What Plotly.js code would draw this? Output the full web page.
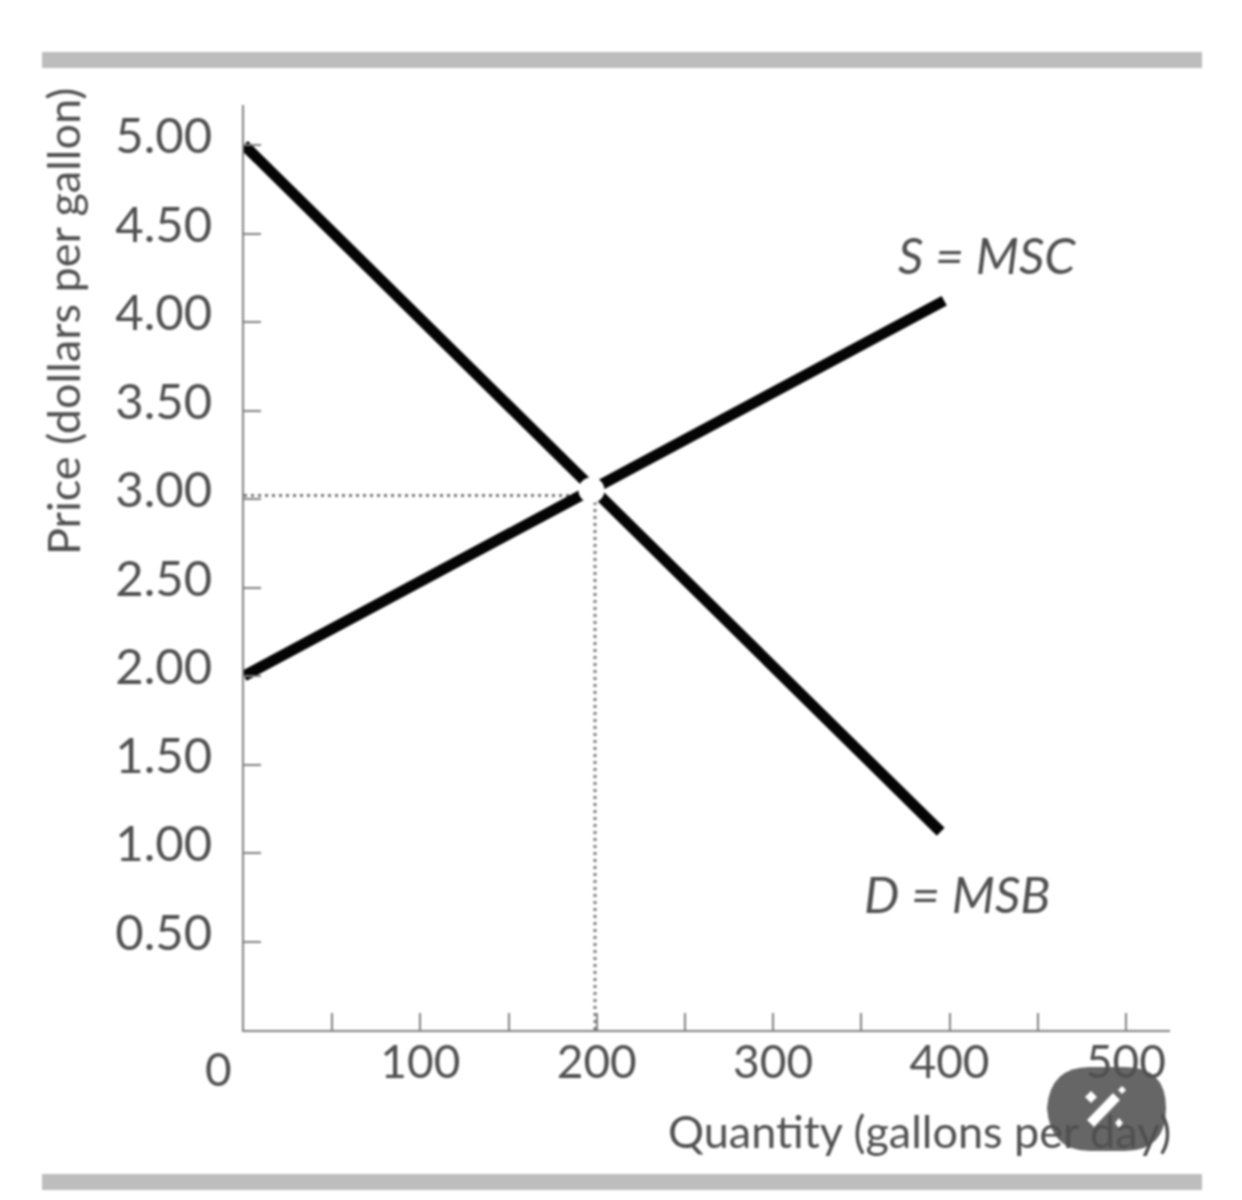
<!DOCTYPE html>
<html>
<head>
<meta charset="utf-8">
<script src="https://cdn.plot.ly/plotly-3.0.0.min.js"></script>
<style>html,body{margin:0;padding:0;background:#fff}#chart{width:1242px;height:1200px;filter:blur(0.8px)}</style>
</head>
<body>
<div id="chart"></div>
<script>
const demandQty = [0, 395];
const demandPrice = [5.0, 1.12];
const supplyQty = [0, 397];
const supplyPrice = [2.0, 4.12];
const equilibriumQty = [197];
const equilibriumPrice = [3.05];
const guideVQty = [199, 199];
const guideVPrice = [0, 3.0];
const guideHQty = [0, 197];
const guideHPrice = [3.02, 3.02];
const xTickVals = [50,100,150,200,250,300,350,400,450,500];
const xTickText = ['','100','','200','','300','','400','','500'];
const yTickVals = [0.5,1,1.5,2,2.5,3,3.5,4,4.5,5];
const yTickText = ['0.50','1.00','1.50','2.00','2.50','3.00','3.50','4.00','4.50','5.00'];
const xTitle = 'Quantity (gallons per day)';
const yTitle = 'Price (dollars per gallon)';

const W=1242,H=1200,L=244,R=1170,T=105,B=1030;
const px=x=>(x-L)/(R-L), py=y=>(B-y)/(B-T);
const textCol='#505050', fam='Lato, sans-serif';
const lineStyle={color:'#050505',width:11};
const guide={color:'#777',width:3,dash:'3px,4px'};
const ln=(x,y,line)=>({x,y,type:'scatter',mode:'lines',line,cliponaxis:false,hoverinfo:'skip',showlegend:false});
const traces=[
  ln(guideVQty,guideVPrice,guide),
  ln(guideHQty,guideHPrice,guide),
  ln(demandQty,demandPrice,lineStyle),
  ln(supplyQty,supplyPrice,lineStyle),
  {x:equilibriumQty,y:equilibriumPrice,type:'scatter',mode:'markers',cliponaxis:false,hoverinfo:'skip',showlegend:false,
   marker:{size:24,color:'#fff',line:{color:'#fff',width:2}}}
];
const pxRect=(x0,y0,x1,y1,color)=>({type:'rect',xref:'paper',yref:'paper',x0:px(x0),x1:px(x1),y0:py(y0),y1:py(y1),fillcolor:color,line:{width:0},layer:'below'});
const pxPath=(pts,color)=>({type:'path',xref:'paper',yref:'paper',layer:'below',fillcolor:color,line:{width:0},
  path:'M'+pts.map(p=>px(p[0])+','+py(p[1])).join('L')+'Z'});
const pt=(x,y)=>px(x)+','+py(y);
const badge={type:'path',xref:'paper',yref:'paper',layer:'below',fillcolor:'#666',line:{width:0},
  path:'M'+pt(1047,1108)+'Q'+pt(1050,1067)+' '+pt(1090,1067)+'L'+pt(1125,1067)+'Q'+pt(1166,1067)+' '+pt(1166,1108)+
       'Q'+pt(1166,1151)+' '+pt(1125,1151)+'L'+pt(1090,1151)+'Q'+pt(1050,1151)+' '+pt(1047,1108)+'Z'};
const layout={
  width:W,height:H,paper_bgcolor:'#fff',plot_bgcolor:'#fff',showlegend:false,
  margin:{l:L,r:W-R,t:T,b:H-B,pad:0},
  font:{family:fam,color:textCol},
  xaxis:{range:[0,525],showgrid:false,zeroline:false,showline:true,linecolor:'#808080',linewidth:2,
    ticks:'inside',ticklen:17,tickwidth:2,tickcolor:'#808080',tickmode:'array',tickvals:xTickVals,ticktext:xTickText,
    tickangle:0,tickfont:{family:fam,size:46,color:textCol},ticklabelstandoff:-9,fixedrange:true},
  yaxis:{range:[0,5.226],showgrid:false,zeroline:false,showline:true,linecolor:'#808080',linewidth:2,
    ticks:'inside',ticklen:17,tickwidth:2,tickcolor:'#808080',tickmode:'array',tickvals:yTickVals,ticktext:yTickText,
    tickfont:{family:fam,size:49,color:textCol},ticklabelstandoff:20,ticklabelshift:-9,fixedrange:true},
  shapes:[
    pxRect(42,52,1202,68,'#bdbdbd'),
    pxRect(42,1174,1202,1190,'#bdbdbd'),
    badge,
    pxPath([[1087,1120],[1113,1093],[1120,1100],[1094,1127]],'#fff'),
    pxPath([[1085,1097],[1091,1091],[1097,1097],[1091,1103]],'#fff'),
    pxPath([[1118,1090],[1122,1086],[1126,1090],[1122,1094]],'#fff'),
    pxPath([[1115,1123],[1119,1118],[1123,1123],[1119,1128]],'#fff')
  ],
  annotations:[
    {xref:'x',yref:'y',x:421,y:4.38,xanchor:'center',yanchor:'middle',text:'<i>S = MSC</i>',showarrow:false,font:{family:fam,size:50,color:textCol}},
    {xref:'x',yref:'y',x:404,y:0.77,xanchor:'center',yanchor:'middle',text:'<i>D = MSB</i>',showarrow:false,font:{family:fam,size:50,color:textCol}},
    {xref:'paper',yref:'paper',x:px(218),y:py(1068),xanchor:'center',yanchor:'middle',text:'0',showarrow:false,font:{family:fam,size:46,color:textCol}},
    {xref:'paper',yref:'paper',x:px(919),y:py(1131),xanchor:'center',yanchor:'middle',text:xTitle,showarrow:false,font:{family:fam,size:45,color:textCol}},
    {xref:'paper',yref:'paper',x:px(63),y:py(322),xanchor:'center',yanchor:'middle',text:yTitle,textangle:-90,showarrow:false,font:{family:fam,size:45,color:textCol}}
  ]
};
Plotly.newPlot('chart',traces,layout,{staticPlot:true,displayModeBar:false});
</script>
</body>
</html>
